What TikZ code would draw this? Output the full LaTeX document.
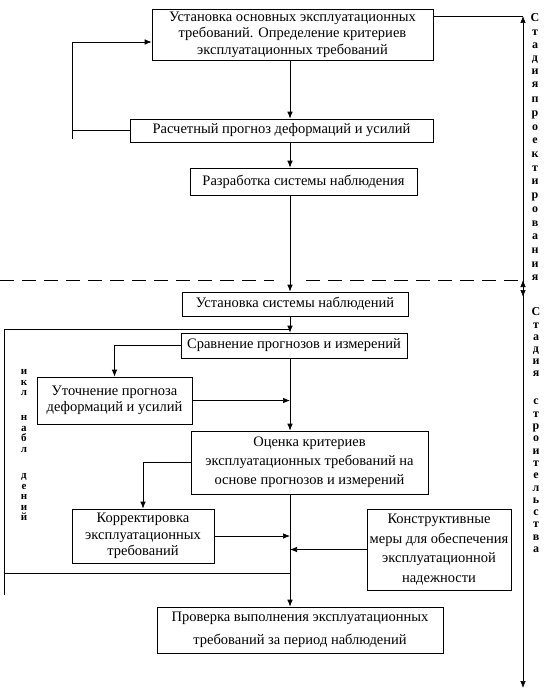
\documentclass[tikz,border=0pt]{standalone}
\usepackage{fontspec}
\setmainfont{Liberation Serif}
\usetikzlibrary{arrows.meta}

\begin{document}
\begin{tikzpicture}[x=1pt, y=-1pt, line width=0.7pt,
	blok/.style={draw, inner sep=0pt, align=center, font=\fontsize{14.5}{16.5}\selectfont},
	bukvy/.style={align=center, inner sep=0pt},
	>={Latex[length=7pt, width=5.5pt]}]
			\useasboundingbox (0,0) rectangle (548,693);
			\coordinate (m) at (290,0);
			% stage of design
			\node (a) at (292.5,34.5) [blok, minimum width=281, minimum height=51] {Установка основных эксплуатационных\\требований. Определение критериев\\эксплуатационных требований};
			\node (b) at (281.5,130.5) [blok, minimum width=303, minimum height=23] {Расчетный прогноз деформаций и усилий};
			\node (c) at (303.5,181.5) [blok, minimum width=227, minimum height=27] {Разработка системы наблюдения};
			% stage of construction
			\node (d) at (295,304) [blok, minimum width=226, minimum height=24] {Установка системы наблюдений};
			\node (e) at (294,345.5) [blok, minimum width=226, minimum height=25] {Сравнение прогнозов и измерений};
			\node (f) at (114.5,400.5) [blok, minimum width=155, minimum height=47] {Уточнение прогноза\\деформаций и усилий};
			\node (g) at (309.5,462.5) [blok, minimum width=237, minimum height=63, font=\fontsize{14.5}{19}\selectfont] {Оценка критериев\\эксплуатационных требований на\\основе прогнозов и измерений};
			\node (h) at (143,536) [blok, minimum width=142, minimum height=54] {Корректировка\\эксплуатационных\\требований};
			\node (i) at (439,549.5) [blok, minimum width=144, minimum height=81, font=\fontsize{14.5}{19.5}\selectfont] {Конструктивные\\меры для обеспечения\\эксплуатационной\\надежности};
			\node (j) at (300,630) [blok, minimum width=286, minimum height=46, font=\fontsize{14.5}{23}\selectfont] {Проверка выполнения эксплуатационных\\требований за период наблюдений};
			% main line
			\draw[->] (a.south -| m) -- (b.north -| m);
			\draw[->] (b.south -| m) -- (c.north -| m);
			\draw[->] (c.south -| m) -- (d.north -| m);
			\draw[->] (d.south -| m) -- (e.north -| m);
			\draw[->] (e.south -| m) -- (g.north -| m);
			\draw[->] (g.south -| m) -- (j.north -| m);
			% upper loop
			\coordinate (l1) at (72,42);
			\coordinate (l2) at (72,139);
			\draw (l2) -- (l1);
			\draw[->] (l1) -- (l1 -| a.west);
			\draw (b.west) -- (b.west -| l1);
			% cycle of observations
			\coordinate (l3) at (4,329);
			\coordinate (l4) at (4,595);
			\coordinate (l5) at (4,573);
			\draw (l3) -- (l4);
			\draw (l3) -- (l3 -| m);
			\draw (l5) -- (l5 -| m);
			\draw[->] (e.west) -| (f.north);
			\draw[->] (f.east) -- (f.east -| m);
			\draw[->] (g.west) -| (h.north);
			\draw[->] (h.east) -- (h.east -| m);
			\draw[->] (i.west) -- (i.west -| m);
			% stages
			\coordinate (r1) at (523,16);
			\coordinate (r2) at (523,297);
			\coordinate (r3) at (523,280);
			\coordinate (r4) at (523,688);
			\draw (r1 -| a.east) -- (r1);
			\draw[<->] (r1) -- (r2);
			\draw[<->] (r3) -- (r4);
			\draw[dash pattern=on 14pt off 8pt] (0,280) -- (274,280);
			\draw[dash pattern=on 14pt off 8pt] (306,280) -- (r3);
			\node (s1) at (535,51) [bukvy, font=\fontsize{12}{13.2}\selectfont\bfseries] {С\\т\\а\\д\\и\\я};
			\node (s2) at (535,189) [bukvy, font=\fontsize{12}{13.7}\selectfont\bfseries] {п\\р\\о\\е\\к\\т\\и\\р\\о\\в\\а\\н\\и\\я};
			\node (s3) at (536,342.5) [bukvy, font=\fontsize{12}{12.2}\selectfont\bfseries] {С\\т\\а\\д\\и\\я};
			\node (s4) at (536,476) [bukvy, font=\fontsize{12}{12.3}\selectfont\bfseries] {с\\т\\р\\о\\и\\т\\е\\л\\ь\\с\\т\\в\\а};
			\node (t1) at (24,383) [bukvy, font=\fontsize{11}{10.5}\selectfont\bfseries] {и\\к\\л};
			\node (t2) at (24,434) [bukvy, font=\fontsize{11}{10.5}\selectfont\bfseries] {н\\а\\б\\л};
			\node (t3) at (24,497) [bukvy, font=\fontsize{11}{10.5}\selectfont\bfseries] {д\\е\\н\\и\\й};
			\end{tikzpicture}
\end{document}
